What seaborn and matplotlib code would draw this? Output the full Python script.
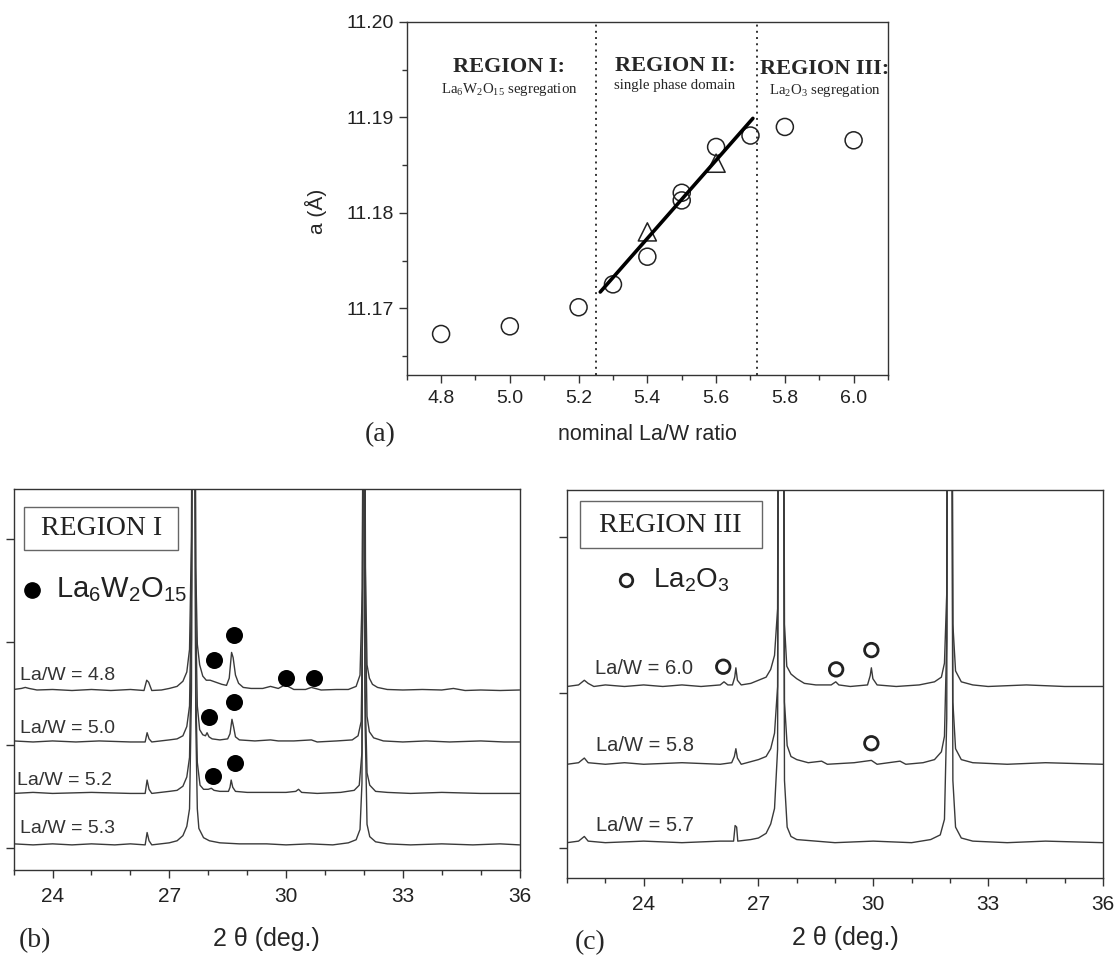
import numpy as np
import pandas as pd
import matplotlib
matplotlib.use("Agg")
import matplotlib.pyplot as plt
import seaborn as sns
from matplotlib.patches import Rectangle
from matplotlib.lines import Line2D
from matplotlib.ticker import MultipleLocator, FormatStrFormatter

# ---------------- data: panel (a) ----------------
lat_ratio = [4.8, 5.0, 5.2, 5.3, 5.4, 5.5, 5.5, 5.6, 5.7, 5.8, 6.0]
lat_a = [11.1673, 11.1681, 11.1701, 11.1725, 11.1754, 11.1821, 11.1813, 11.1869, 11.1881, 11.1890, 11.1876]
tri_ratio = [5.4, 5.6]
tri_a = [11.1780, 11.1852]
fit_ratio = [5.263, 5.707]
fit_a = [11.1717, 11.1899]
region_bounds = [5.25, 5.72]

# ---------------- data: panel (b)  (2theta, intensity above own baseline) ----------------
b_labels = ["La/W = 4.8", "La/W = 5.0", "La/W = 5.2", "La/W = 5.3"]
b_offsets = [1.53, 1.03, 0.53, 0.03]
b48 = [(23.0,0.01),(23.2,0.02),(23.3,0.03),(23.4,0.02),(23.6,0.005),(24.0,0.01),(24.5,0.0),(25.0,0.01),
       (25.5,0.0),(26.0,0.01),(26.35,0.0),(26.42,0.1),(26.47,0.08),(26.55,0.0),(26.8,0.005),(27.0,0.02),
       (27.2,0.04),(27.35,0.09),(27.45,0.18),(27.52,0.4),(27.57,1.5),(27.6,6.0),(27.64,6.0),(27.68,1.2),
       (27.72,0.45),(27.78,0.25),(27.86,0.14),(27.95,0.1),(28.05,0.1),(28.2,0.08),(28.35,0.06),(28.47,0.05),
       (28.54,0.12),(28.6,0.37),(28.64,0.32),(28.7,0.15),(28.78,0.07),(28.9,0.03),(29.1,0.02),(29.4,0.02),
       (29.6,0.04),(29.8,0.02),(29.95,0.05),(30.05,0.04),(30.2,0.01),(30.5,0.01),(30.65,0.03),(30.75,0.02),
       (30.9,0.005),(31.3,0.01),(31.6,0.01),(31.8,0.04),(31.9,0.15),(31.96,1.0),(32.0,6.0),(32.04,1.2),
       (32.08,0.25),(32.14,0.12),(32.22,0.06),(32.35,0.03),(32.6,0.01),(33.0,0.005),(33.5,0.01),(34.0,0.005),
       (34.3,0.02),(34.6,0.0),(35.0,0.005),(35.5,0.0),(36.0,0.005)]
b50 = [(23.0,0.01),(23.5,0.0),(24.0,0.01),(24.6,0.0),(25.2,0.01),(26.0,0.0),(26.38,0.0),(26.43,0.09),
       (26.48,0.03),(26.55,0.0),(27.0,0.02),(27.2,0.03),(27.35,0.06),(27.45,0.15),(27.52,0.35),(27.57,1.5),
       (27.6,6.0),(27.64,6.0),(27.68,1.2),(27.72,0.35),(27.78,0.12),(27.86,0.07),(27.93,0.06),(27.97,0.09),
       (28.02,0.05),(28.1,0.03),(28.3,0.02),(28.5,0.03),(28.56,0.08),(28.61,0.22),(28.65,0.15),(28.7,0.05),
       (28.8,0.02),(29.2,0.01),(29.6,0.02),(29.8,0.01),(30.2,0.01),(30.65,0.02),(30.8,0.0),(31.3,0.01),
       (31.7,0.02),(31.85,0.06),(31.93,0.2),(31.97,1.2),(32.0,6.0),(32.04,1.2),(32.08,0.25),(32.14,0.1),
       (32.25,0.04),(32.5,0.01),(33.0,0.0),(33.6,0.01),(34.2,0.0),(35.0,0.01),(35.6,0.0),(36.0,0.0)]
b52 = [(23.0,0.0),(23.5,0.01),(24.0,0.0),(25.0,0.01),(26.0,0.0),(26.38,0.0),(26.43,0.13),(26.48,0.04),
       (26.55,0.0),(27.0,0.02),(27.2,0.03),(27.35,0.07),(27.45,0.16),(27.52,0.35),(27.57,1.5),(27.6,6.0),
       (27.64,6.0),(27.68,1.0),(27.72,0.3),(27.79,0.08),(27.88,0.04),(28.0,0.04),(28.08,0.05),(28.15,0.03),
       (28.3,0.02),(28.52,0.02),(28.56,0.06),(28.59,0.13),(28.63,0.06),(28.7,0.02),(29.0,0.01),(29.5,0.01),
       (30.0,0.01),(30.25,0.02),(30.32,0.04),(30.4,0.01),(30.8,0.0),(31.4,0.01),(31.75,0.03),(31.88,0.08),
       (31.95,0.4),(31.99,6.0),(32.03,1.0),(32.08,0.2),(32.15,0.08),(32.3,0.02),(32.6,0.01),(33.2,0.0),
       (34.0,0.01),(35.0,0.0),(36.0,0.0)]
b53 = [(23.0,0.01),(23.5,0.0),(24.0,0.01),(24.5,0.0),(25.0,0.01),(25.6,0.0),(26.0,0.01),(26.38,0.0),
       (26.43,0.12),(26.48,0.04),(26.55,0.0),(27.0,0.02),(27.2,0.04),(27.35,0.09),(27.45,0.18),(27.52,0.35),
       (27.57,1.5),(27.6,6.0),(27.64,6.0),(27.68,1.2),(27.72,0.35),(27.76,0.16),(27.88,0.07),(28.03,0.04),
       (28.3,0.02),(28.8,0.01),(29.5,0.01),(30.0,0.0),(30.6,0.01),(31.2,0.0),(31.6,0.02),(31.8,0.05),
       (31.9,0.15),(31.95,0.6),(31.99,6.0),(32.03,1.2),(32.08,0.2),(32.15,0.08),(32.3,0.03),(32.6,0.01),
       (33.2,0.0),(34.0,0.01),(34.8,0.0),(35.5,0.01),(36.0,0.0)]
b_patterns = [b48, b50, b52, b53]
b_mark_tt = [28.16, 28.67, 30.01, 30.71, 28.03, 28.65, 28.12, 28.69]
b_mark_y = [1.825, 2.068, 1.65, 1.65, 1.269, 1.42, 0.702, 0.828]

# ---------------- data: panel (c) ----------------
c_labels = ["La/W = 6.0", "La/W = 5.8", "La/W = 5.7"]
c_offsets = [1.04, 0.54, 0.036]
c60 = [(22.0,0.0),(22.3,0.01),(22.45,0.04),(22.55,0.02),(22.7,0.0),(23.0,0.01),(23.5,0.0),(24.0,0.01),
       (24.5,0.0),(25.0,0.01),(25.5,0.0),(26.0,0.01),(26.1,0.03),(26.2,0.01),(26.32,0.01),(26.38,0.06),
       (26.41,0.12),(26.45,0.04),(26.55,0.01),(26.8,0.02),(27.0,0.04),(27.2,0.06),(27.32,0.11),(27.42,0.2),
       (27.5,0.5),(27.55,6.0),(27.62,6.0),(27.68,0.4),(27.74,0.13),(27.85,0.08),(28.0,0.05),(28.2,0.02),
       (28.5,0.01),(28.9,0.01),(29.02,0.03),(29.1,0.01),(29.4,0.0),(29.85,0.01),(29.92,0.07),(29.95,0.12),
       (29.99,0.05),(30.1,0.01),(30.6,0.0),(31.2,0.01),(31.6,0.03),(31.78,0.06),(31.86,0.15),(31.92,0.6),
       (31.96,6.0),(32.02,6.0),(32.08,0.4),(32.15,0.1),(32.3,0.03),(32.6,0.01),(33.0,0.0),(34.0,0.01),
       (35.0,0.0),(36.0,0.0)]
c58 = [(22.0,0.0),(22.3,0.01),(22.45,0.04),(22.55,0.01),(23.0,0.0),(23.5,0.01),(24.0,0.0),(25.0,0.01),
       (26.0,0.0),(26.3,0.01),(26.37,0.05),(26.41,0.1),(26.45,0.04),(26.55,0.0),(27.0,0.03),(27.2,0.05),
       (27.32,0.1),(27.42,0.2),(27.5,0.5),(27.55,6.0),(27.62,6.0),(27.68,0.4),(27.75,0.12),(27.85,0.05),
       (28.0,0.03),(28.3,0.01),(28.65,0.02),(28.8,0.0),(29.5,0.01),(29.95,0.025),(30.1,0.0),(30.7,0.02),
       (30.85,0.0),(31.3,0.01),(31.6,0.03),(31.78,0.08),(31.86,0.18),(31.92,0.8),(31.96,6.0),(32.02,6.0),
       (32.08,0.4),(32.15,0.1),(32.3,0.03),(32.6,0.01),(33.5,0.0),(34.5,0.01),(36.0,0.0)]
c57 = [(22.0,0.0),(22.3,0.01),(22.45,0.04),(22.55,0.01),(23.0,0.0),(24.0,0.01),(25.0,0.0),(26.0,0.01),
       (26.35,0.01),(26.39,0.11),(26.43,0.1),(26.46,0.01),(26.8,0.02),(27.0,0.03),(27.2,0.06),(27.32,0.12),
       (27.42,0.22),(27.5,0.6),(27.55,6.0),(27.62,6.0),(27.68,0.4),(27.75,0.1),(27.85,0.04),(28.0,0.02),
       (28.5,0.01),(29.0,0.0),(30.0,0.01),(31.0,0.0),(31.5,0.02),(31.75,0.05),(31.86,0.15),(31.92,0.8),
       (31.96,6.0),(32.02,6.0),(32.08,0.4),(32.15,0.1),(32.3,0.03),(32.6,0.01),(33.5,0.0),(34.5,0.01),
       (36.0,0.0)]
c_patterns = [c60, c58, c57]
c_mark_tt = [26.08, 29.03, 29.95, 29.95]
c_mark_y = [1.167, 1.150, 1.274, 0.675]

# ---------------- style ----------------
sns.set_theme(style="ticks")
plt.rcParams['font.family'] = ['Liberation Sans', 'DejaVu Sans']
plt.rcParams['mathtext.default'] = 'regular'
plt.rcParams['axes.edgecolor'] = '#333333'
plt.rcParams['axes.linewidth'] = 1.0
plt.rcParams['xtick.color'] = '#333333'
plt.rcParams['ytick.color'] = '#333333'
plt.rcParams['xtick.labelcolor'] = '#222222'
plt.rcParams['ytick.labelcolor'] = '#222222'

W, H = 1118, 963
fig = plt.figure(figsize=(W / 100, H / 100), dpi=100)
fig.patch.set_facecolor('white')

def fx(px):
    return px / W

def fy(py):
    return 1 - py / H

def rect(l, t, r, b):
    return [l / W, 1 - b / H, (r - l) / W, (b - t) / H]

SERIF = ['Liberation Serif', 'DejaVu Serif']
LINE = '#3a3a3a'

# ---------------- panel (a) ----------------
axA = fig.add_axes(rect(406.7, 22, 888, 375))
sns.scatterplot(x=lat_ratio, y=lat_a, ax=axA, marker='o', s=150, facecolors='none',
                edgecolor='#222222', linewidth=1.1, zorder=3)
sns.scatterplot(x=tri_ratio, y=tri_a, ax=axA, marker='^', s=170, facecolors='none',
                edgecolor='#222222', linewidth=1.1, zorder=3)
sns.lineplot(x=fit_ratio, y=fit_a, ax=axA, color='black', lw=2.6, zorder=4)
for xb in region_bounds:
    axA.axvline(xb, color='#333333', ls=(0, (1, 2.2)), lw=1.4)
axA.set_xlim(4.7, 6.1)
axA.set_ylim(11.163, 11.20)
axA.xaxis.set_major_locator(MultipleLocator(0.2))
axA.xaxis.set_minor_locator(MultipleLocator(0.1))
axA.yaxis.set_major_locator(MultipleLocator(0.01))
axA.yaxis.set_minor_locator(MultipleLocator(0.005))
axA.xaxis.set_major_formatter(FormatStrFormatter('%.1f'))
axA.yaxis.set_major_formatter(FormatStrFormatter('%.2f'))
axA.tick_params(which='major', direction='out', length=6, width=1, labelsize=14, pad=5)
axA.tick_params(which='minor', direction='out', length=3.5, width=1)
axA.tick_params(axis='y', pad=3)
axA.set_xlabel('')
axA.set_ylabel('')
for s in axA.spines.values():
    s.set_visible(True)

fig.text(fx(316), fy(211), 'a (Å)', rotation=90, ha='center', va='center', fontsize=15)
fig.text(fx(647), fy(434), 'nominal La/W ratio', ha='center', va='center', fontsize=15.5)
fig.text(fx(380), fy(435), '(a)', ha='center', va='center', fontsize=20, family=SERIF)

fig.text(fx(509), fy(72), 'REGION I:', ha='center', va='baseline', fontsize=16, fontweight='bold', family=SERIF)
fig.text(fx(509), fy(93), r'La$_{6}$W$_{2}$O$_{15}$ segregation', ha='center', va='baseline', fontsize=10.7, family=SERIF)
fig.text(fx(675), fy(70.7), 'REGION II:', ha='center', va='baseline', fontsize=16, fontweight='bold', family=SERIF)
fig.text(fx(675), fy(89.5), 'single phase domain', ha='center', va='baseline', fontsize=10.7, family=SERIF)
fig.text(fx(825), fy(74), 'REGION III:', ha='center', va='baseline', fontsize=16, fontweight='bold', family=SERIF)
fig.text(fx(825), fy(94), r'La$_{2}$O$_{3}$ segregation', ha='center', va='baseline', fontsize=10.7, family=SERIF)


# ---------------- XRD helper ----------------
def draw_patterns(ax, patterns, offsets):
    for pts, off in zip(patterns, offsets):
        df = pd.DataFrame(pts, columns=['tt', 'I'])
        df['y'] = df['I'] + off
        sns.lineplot(data=df, x='tt', y='y', ax=ax, color=LINE, lw=1.0,
                     estimator=None, sort=False, zorder=2)


def style_xrd(ax, xlim, ylim, ymax_tick):
    ax.set_xlim(*xlim)
    ax.set_ylim(*ylim)
    ax.xaxis.set_major_locator(MultipleLocator(3))
    ax.xaxis.set_minor_locator(MultipleLocator(1))
    ax.set_yticks(list(range(0, ymax_tick + 1)))
    ax.set_yticklabels([])
    ax.tick_params(which='major', direction='out', length=6, width=1, labelsize=15, pad=6)
    ax.tick_params(which='minor', direction='out', length=3.5, width=1)
    ax.set_xlabel('')
    ax.set_ylabel('')
    for s in ax.spines.values():
        s.set_visible(True)


# ---------------- panel (b) ----------------
axB = fig.add_axes(rect(13.6, 489.3, 519.6, 870))
draw_patterns(axB, b_patterns, b_offsets)
sns.scatterplot(x=b_mark_tt, y=b_mark_y, ax=axB, marker='o', s=150, color='black',
                edgecolor='black', linewidth=0, zorder=3)
style_xrd(axB, (23, 36), (-0.214, 3.485), 3)

for lab, (px, py) in zip(b_labels, [(20, 675), (20, 728.5), (17.3, 780), (20, 828.5)]):
    fig.text(fx(px), fy(py), lab, ha='left', va='center', fontsize=14, color='#333333')

fig.add_artist(Rectangle((fx(24.3), fy(550)), fx(177.5 - 24.3), (550 - 506.7) / H,
                         fill=False, edgecolor='#666666', lw=1.0))
fig.text(fx(102), fy(528.5), 'REGION I', ha='center', va='center', fontsize=20, family=SERIF, color='#222222')
fig.add_artist(Line2D([fx(32)], [fy(590)], marker='o', markersize=11, color='black', ls='none'))
fig.text(fx(56), fy(590), r'La$_{6}$W$_{2}$O$_{15}$', ha='left', va='center', fontsize=21, color='#222222')

fig.text(fx(266.6), fy(939), '2 θ (deg.)', ha='center', va='center', fontsize=18)
fig.text(fx(35), fy(941), '(b)', ha='center', va='center', fontsize=20, family=SERIF)

# ---------------- panel (c) ----------------
axC = fig.add_axes(rect(567.1, 490, 1102.9, 878.3))
draw_patterns(axC, c_patterns, c_offsets)
sns.scatterplot(x=c_mark_tt, y=c_mark_y, ax=axC, marker='o', s=95, facecolors='none',
                edgecolor='#222222', linewidth=2.0, zorder=3)
style_xrd(axC, (22, 36), (-0.193, 2.303), 2)

for lab, (px, py) in zip(c_labels, [(595, 668), (596, 745), (596, 825)]):
    fig.text(fx(px), fy(py), lab, ha='left', va='center', fontsize=14.5, color='#333333')

fig.add_artist(Rectangle((fx(579.6), fy(548.3)), fx(761.8 - 579.6), (548.3 - 500.7) / H,
                         fill=False, edgecolor='#666666', lw=1.0))
fig.text(fx(670), fy(526), 'REGION III', ha='center', va='center', fontsize=20.5, family=SERIF, color='#222222')
fig.add_artist(Line2D([fx(626)], [fy(580)], marker='o', markersize=9, markerfacecolor='none',
                      markeredgecolor='#222222', markeredgewidth=2.0, ls='none'))
fig.text(fx(653), fy(580), r'La$_{2}$O$_{3}$', ha='left', va='center', fontsize=20, color='#222222')

fig.text(fx(845), fy(938), '2 θ (deg.)', ha='center', va='center', fontsize=18)
fig.text(fx(590), fy(943), '(c)', ha='center', va='center', fontsize=20, family=SERIF)

fig.savefig('out.png', dpi=100, facecolor='white')
